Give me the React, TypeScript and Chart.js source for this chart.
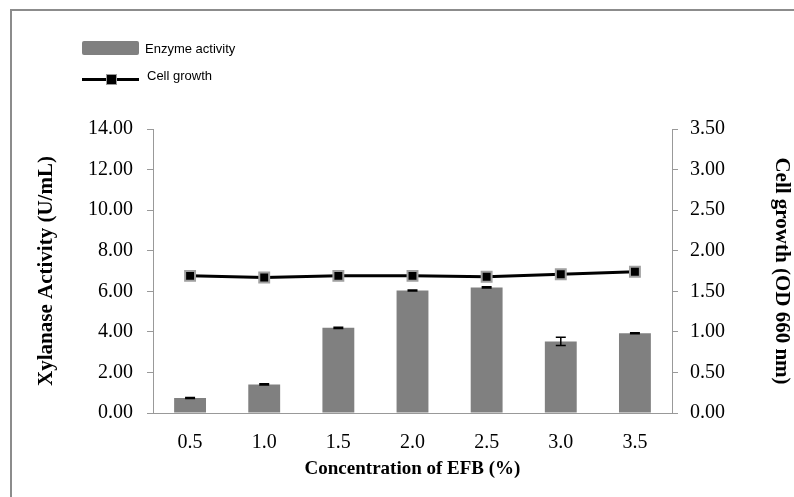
import React, { useEffect, useRef } from "react";
import { Chart, registerables } from "chart.js";

Chart.register(...registerables);

const categories = ["0.5", "1.0", "1.5", "2.0", "2.5", "3.0", "3.5"];
const enzymeActivity = [0.74, 1.41, 4.2, 6.04, 6.19, 3.53, 3.93];
const enzymeError = [0.03, 0.03, 0.03, 0.02, 0.03, 0.2, 0.02];
const cellGrowth = [1.69, 1.67, 1.69, 1.69, 1.68, 1.71, 1.74];
const leftTicks = [0, 2, 4, 6, 8, 10, 12, 14];
const rightTicks = [0, 0.5, 1, 1.5, 2, 2.5, 3, 3.5];

const SERIF = "'Liberation Serif', 'Times New Roman', serif";

const errorBarPlugin = {
  id: "errorBars",
  afterDatasetDraw(chart: any, args: any) {
    if (args.index !== 0) return;
    const meta = chart.getDatasetMeta(0);
    const y = chart.scales.y;
    const ctx = chart.ctx;
    ctx.save();
    ctx.strokeStyle = "#000";
    ctx.lineWidth = 1.5;
    meta.data.forEach((bar: any, i: number) => {
      const v = enzymeActivity[i];
      const e = enzymeError[i];
      const x = bar.x;
      const yTop = y.getPixelForValue(v + e);
      const yBot = y.getPixelForValue(v - e);
      const cap = 5;
      ctx.beginPath();
      ctx.moveTo(x, yTop);
      ctx.lineTo(x, yBot);
      ctx.moveTo(x - cap, yTop);
      ctx.lineTo(x + cap, yTop);
      ctx.moveTo(x - cap, yBot);
      ctx.lineTo(x + cap, yBot);
      ctx.stroke();
    });
    ctx.restore();
  },
};

export default function App() {
  const ref = useRef<HTMLCanvasElement | null>(null);

  useEffect(() => {
    document.body.style.margin = "0";
    const canvas = ref.current;
    if (!canvas) return;
    const chart = new Chart(canvas, {
      type: "bar",
      data: {
        labels: categories,
        datasets: [
          {
            type: "bar",
            label: "Enzyme activity",
            data: enzymeActivity,
            backgroundColor: "#808080",
            borderWidth: 0,
            categoryPercentage: 1,
            barPercentage: 0.43,
            yAxisID: "y",
            order: 2,
          },
          {
            type: "line",
            label: "Cell growth",
            data: cellGrowth,
            borderColor: "#000",
            borderWidth: 3,
            pointStyle: "rect",
            pointRadius: 7,
            pointBackgroundColor: "#000",
            pointBorderColor: "#a0a0a0",
            pointBorderWidth: 2,
            tension: 0,
            yAxisID: "y1",
            order: 0,
          } as any,
        ],
      },
      options: {
        responsive: false,
        animation: false,
        layout: { padding: { left: 20, top: 129, right: 0, bottom: 0 } },
        plugins: {
          legend: { display: false },
          tooltip: { enabled: false },
        },
        scales: {
          x: {
            grid: { display: false },
            border: { display: true, color: "#999", width: 1 },
            ticks: {
              color: "#000",
              font: { family: SERIF, size: 20 },
              padding: 10,
            },
            title: {
              display: true,
              text: "Concentration of EFB (%)",
              color: "#000",
              font: { family: SERIF, size: 19, weight: "bold" },
              padding: { top: 2, bottom: 17 },
            },
            afterFit(scale: any) {
              scale.height = 84;
            },
          },
          y: {
            position: "left",
            min: 0,
            max: 14,
            afterBuildTicks(scale: any) {
              scale.ticks = leftTicks.map((v) => ({ value: v }));
            },
            grid: {
              drawOnChartArea: false,
              drawTicks: true,
              tickLength: 6,
              color: "#999",
            },
            border: { display: true, color: "#999", width: 1 },
            ticks: {
              color: "#000",
              font: { family: SERIF, size: 20 },
              padding: 14,
              callback: (v: any) => Number(v).toFixed(2),
            },
            title: {
              display: true,
              text: "Xylanase Activity (U/mL)",
              color: "#000",
              font: { family: SERIF, size: 21, weight: "bold" },
              padding: { top: 14, bottom: 0 },
            },
            afterFit(scale: any) {
              scale.width = 133;
            },
          },
          y1: {
            position: "right",
            min: 0,
            max: 3.5,
            afterBuildTicks(scale: any) {
              scale.ticks = rightTicks.map((v) => ({ value: v }));
            },
            grid: {
              drawOnChartArea: false,
              drawTicks: true,
              tickLength: 6,
              color: "#999",
            },
            border: { display: true, color: "#999", width: 1 },
            ticks: {
              color: "#000",
              font: { family: SERIF, size: 20 },
              padding: 12,
              callback: (v: any) => Number(v).toFixed(2),
            },
            title: {
              display: true,
              text: "Cell growth (OD 660 nm)",
              color: "#000",
              font: { family: SERIF, size: 21, weight: "bold" },
              padding: { top: 0, bottom: 0 },
            },
            afterFit(scale: any) {
              scale.width = 122;
            },
          },
        },
      } as any,
      plugins: [errorBarPlugin],
    });
    return () => chart.destroy();
  }, []);

  const legendText: React.CSSProperties = {
    position: "absolute",
    fontFamily: "'Liberation Sans', Arial, sans-serif",
    fontSize: 13,
    color: "#000",
    lineHeight: "16px",
  };

  return (
    <div style={{ position: "relative", width: 794, height: 497, overflow: "hidden" }}>
      <canvas ref={ref} width={794} height={497} style={{ position: "absolute", left: 0, top: 0 }} />
      <div
        style={{
          position: "absolute",
          left: 10,
          top: 9,
          width: 820,
          height: 520,
          borderLeft: "2px solid #8c8c8c",
          borderTop: "2px solid #8c8c8c",
          pointerEvents: "none",
        }}
      />
      <div
        style={{
          position: "absolute",
          left: 82,
          top: 41,
          width: 57,
          height: 14,
          background: "#808080",
          borderRadius: 2,
        }}
      />
      <div style={{ ...legendText, left: 145, top: 41 }}>Enzyme activity</div>
      <div style={{ position: "absolute", left: 82, top: 78, width: 57, height: 3, background: "#000" }} />
      <div
        style={{
          position: "absolute",
          left: 106,
          top: 74,
          width: 9,
          height: 9,
          background: "#000",
          border: "1px solid #999",
        }}
      />
      <div style={{ ...legendText, left: 147, top: 68 }}>Cell growth</div>
    </div>
  );
}
